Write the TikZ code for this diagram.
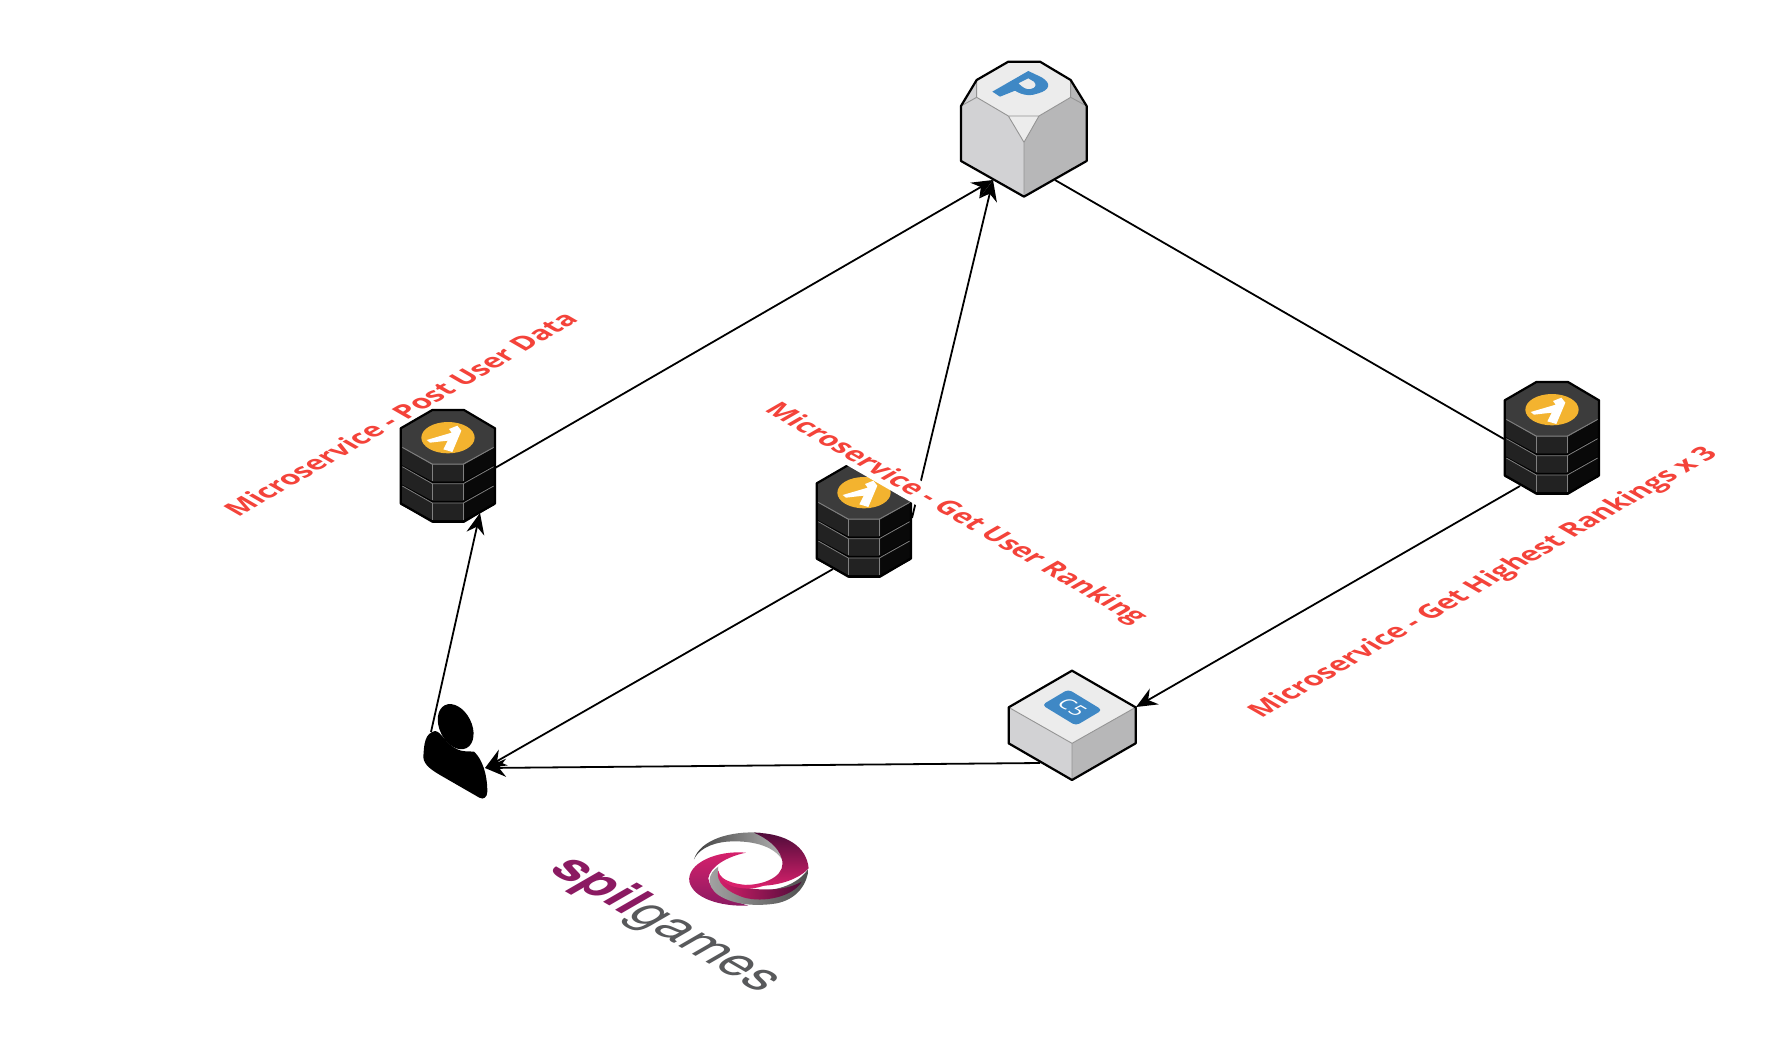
\documentclass[tikz,border=0pt]{standalone}
\usepackage{fontspec}
\setmainfont{Open Sans}
\newfontfamily\heros{TeX Gyre Heros}
\usetikzlibrary{arrows.meta,calc}
\definecolor{topface}{HTML}{ECECEC}
\definecolor{leftface}{HTML}{D2D2D4}
\definecolor{rightface}{HTML}{B7B7B8}
\definecolor{awsblue}{HTML}{3F88C5}
\definecolor{lamtop}{HTML}{3C3C3C}
\definecolor{lamleft}{HTML}{222222}
\definecolor{lamright}{HTML}{090909}
\definecolor{lamyellow}{HTML}{F3B32F}
\definecolor{labelred}{HTML}{F4433A}
\definecolor{spilpurple}{HTML}{8B1A62}
\definecolor{spilgrey}{HTML}{58595B}
\definecolor{spilpink}{HTML}{D9216C}
\definecolor{spildark}{HTML}{4F0C3A}
\tikzset{
  iconbox/.style={inner sep=0pt,minimum width=#1,minimum height=#1},
  link/.style={line width=1.8pt,black},
  arrowlink/.style={link,-{Stealth[length=21pt,width=18pt,inset=7pt]}},
  edge3d/.style={draw=black,line width=2.2pt,line join=round},
  seam/.style={draw=black!42,line width=.9pt},
  laml/.style={draw=black!50,line width=.8pt},
  labeltext/.style={text=labelred,font=\fontsize{27.1}{30}\selectfont\bfseries,inner sep=0pt},
  upright/.style={cm={.866,.5,-.866,.5,(0,0)}},
  downright/.style={cm={.866,-.5,.866,.5,(0,0)}}
}
\newcommand{\lamicon}[3]{%
  \node[iconbox=90pt] (#1) at (#2,#3) {};
  \begin{scope}[shift={(#2,#3)},x=.3333pt,y=-.3333pt,shift={(-204,-228)}]
    \fill[lamright] (157,60)--(252,60)--(345,115)--(345,340)--(252,395)--(157,395)--(62,340)--(62,115)--cycle;
    \foreach \d in {0,58,116}{
      \fill[lamleft] (62,170+\d)--(157,223+\d)--(252,223+\d)--(252,275+\d)--(157,275+\d)--(62,225+\d)--cycle;
      \draw[black,line width=1.5pt] (62,226+\d)--(157,277+\d)--(252,277+\d)--(345,226+\d);
      \draw[laml] (67,172+\d)--(157,223+\d)--(250,223+\d)--(341,172+\d);
      \draw[laml] (157,223+\d)--(157,273+\d) (250,223+\d)--(250,273+\d);
    }
    \fill[lamtop] (157,60)--(252,60)--(345,115)--(345,170)--(252,222)--(157,222)--(62,170)--(62,115)--cycle;
    \draw[laml] (67,172)--(157,222)--(250,222)--(341,172);
    \draw[edge3d] (157,60)--(252,60)--(345,115)--(345,340)--(252,395)--(157,395)--(62,340)--(62,115)--cycle;
    \fill[lamyellow] (204,143) ellipse [x radius=80,y radius=47];
    \fill[white] (207,117)--(232,107)--(244,122)--(217,186)--(190,178)--(203,152)--(150,158)--(140,150)--(198,133)--(215,128)--cycle;
  \end{scope}}
\begin{document}
\begin{tikzpicture}[x=1pt,y=-1pt]
\useasboundingbox (0,0) rectangle (1792,1063);
\fill[white] (0,0) rectangle (1792,1063);
% invisible anchors of the icons
\node[iconbox=120pt] (rds) at (1024,129) {};
\node[iconbox=110pt] (cache) at (1072,725) {};
\node[iconbox=70pt] (user) at (455,751) {};
\node[iconbox=90pt] (lamA) at (448,466) {};
\node[iconbox=90pt] (lamB) at (864,521) {};
\node[iconbox=90pt] (lamC) at (1552,438) {};
% connectors
\draw[arrowlink] ([shift={(47,2)}]lamA.center) -- ([shift={(-31,51)}]rds.center);
\draw[arrowlink] ([shift={(48,-3)}]lamB.center) -- ([shift={(-31,51)}]rds.center);
\draw[link] ([shift={(31,51)}]rds.center) -- ([shift={(-48,1)}]lamC.center);
\draw[arrowlink] ([shift={(-32,48)}]lamC.center) -- ([shift={(64,-18)}]cache.center);
\draw[arrowlink] ([shift={(-32,38)}]cache.center) -- ([shift={(30,17)}]user.center);
\draw[arrowlink] ([shift={(-31,48)}]lamB.center) -- ([shift={(30,17)}]user.center);
\draw[arrowlink] ([shift={(-24,-19)}]user.center) -- ([shift={(32,47)}]lamA.center);
% RDS icon
\begin{scope}[shift={(940,40)},x=.3333pt,y=-.3333pt]
  \fill[leftface] (63,198)--(110,120)--(110,172)--(205,228)--(252,307)--(252,470)--(63,363)--cycle;
  \fill[rightface] (392,120)--(440,198)--(440,363)--(252,470)--(252,307)--(297,228)--(392,172)--cycle;
  \fill[topface] (205,65)--(300,65)--(392,120)--(392,172)--(297,228)--(252,307)--(205,228)--(110,172)--(110,120)--cycle;
  \draw[seam] (63,198)--(110,172)--(110,120) (110,172)--(205,228)--(297,228)--(392,172)--(392,120) (392,172)--(440,198)
              (205,228)--(252,307)--(297,228) (252,307)--(252,470);
  \draw[edge3d] (205,65)--(300,65)--(392,120)--(440,198)--(440,363)--(252,470)--(63,363)--(63,198)--(110,120)--cycle;
  \fill[awsblue,even odd rule] (157,155)--(265,93)--(305,112) .. controls (335,130) and (330,150) .. (295,160) .. controls (275,168) and (250,168) .. (225,152)--(180,170)--cycle
     (235,130)--(265,115)--(282,125) .. controls (292,135) and (285,145) .. (272,147) .. controls (258,150) and (248,142) .. cycle;
\end{scope}
% Lambda icons
\lamicon{lamIconA}{448}{466}
\lamicon{lamIconB}{864}{521}
\lamicon{lamIconC}{1552}{438}
% ElastiCache icon
\begin{scope}[shift={(990,650)},x=.3333pt,y=-.3333pt]
  \fill[leftface] (56,172)--(246,280)--(246,390)--(56,280)--cycle;
  \fill[rightface] (437,172)--(246,280)--(246,390)--(437,280)--cycle;
  \fill[topface] (246,62)--(437,172)--(246,280)--(56,172)--cycle;
  \draw[seam] (56,172)--(246,280)--(437,172) (246,280)--(246,390);
  \draw[edge3d] (246,62)--(437,172)--(437,280)--(246,390)--(56,280)--(56,172)--cycle;
  \fill[awsblue,rounded corners=4pt] (235,118)--(337,180)--(258,227)--(156,165)--cycle;
  \node[downright,text=white,font=\fontsize{20}{22}\selectfont,inner sep=0pt] (c5) at (247,172) {C5};
\end{scope}
% User icon
\begin{scope}[shift={(400,680)},x=.3333pt,y=-.3333pt]
  \fill[shift={(167,140)},rotate=-63.2] (0,0) ellipse [x radius=24pt,y radius=16pt];
  \fill (70,232) .. controls (72,190) and (75,160) .. (105,153) .. controls (125,155) and (135,190) .. (170,207) .. controls (190,217) and (205,213) .. (222,215) .. controls (245,235) and (262,280) .. (262,335) .. controls (262,352) and (250,360) .. (238,353) -- (120,285) .. controls (95,270) and (72,255) .. cycle;
\end{scope}
% Spil games swirl
\begin{scope}[shift={(530,810)},x=.3333pt,y=-.3333pt]
  \shade[left color=black!75,right color=black!30] (492,148) .. controls (510,90) and (600,62) .. (690,68) .. controls (730,90) and (755,115) .. (757,150) .. controls (730,105) and (660,90) .. (590,95) .. controls (540,100) and (505,120) .. cycle;
  \shade[top color=spildark,bottom color=spilpink] (672,68) .. controls (770,70) and (830,110) .. (836,175) .. controls (800,215) and (720,235) .. (650,225) .. controls (720,222) and (770,190) .. (755,145) .. controls (745,110) and (710,85) .. cycle;
  \shade[top color=spilpink,bottom color=spilpurple] (648,128) .. controls (560,120) and (470,160) .. (478,215) .. controls (490,265) and (570,290) .. (655,287) .. controls (600,270) and (535,240) .. (535,205) .. controls (540,170) and (590,140) .. cycle;
  \shade[left color=black!35,right color=black!70] (565,170) .. controls (535,190) and (525,225) .. (565,255) .. controls (610,285) and (680,290) .. (740,280) .. controls (790,270) and (830,235) .. (836,175) .. controls (810,215) and (760,240) .. (690,242) .. controls (620,240) and (555,215) .. cycle;
  \shade[left color=spilpink,right color=spildark] (565,182) .. controls (555,215) and (590,245) .. (640,262) .. controls (700,280) and (790,260) .. (815,215) .. controls (780,235) and (740,240) .. (690,238) .. controls (630,235) and (570,215) .. cycle;
  \fill[spilpink] (565,182) .. controls (562,205) and (610,225) .. (660,225) .. controls (700,228) and (740,222) .. (755,180) .. controls (745,215) and (690,240) .. (640,235) .. controls (600,232) and (570,215) .. cycle;
\end{scope}
% labels
\node[upright,labeltext] (lblPost) at (400,414) {Microservice - Post User Data};
\node[downright,labeltext,fill=white] (lblRank) at (955,514) {Microservice - Get User Ranking};
\node[upright,labeltext] (lblHigh) at (1484,583) {Microservice - Get Highest Rankings x 3};
\node[downright,inner sep=0pt,font=\fontsize{52}{54}\selectfont\heros] (spil) at (666,925) {\textcolor{spilpurple}{\bfseries spil}\textcolor{spilgrey}{games}};
\end{tikzpicture}
\end{document}
